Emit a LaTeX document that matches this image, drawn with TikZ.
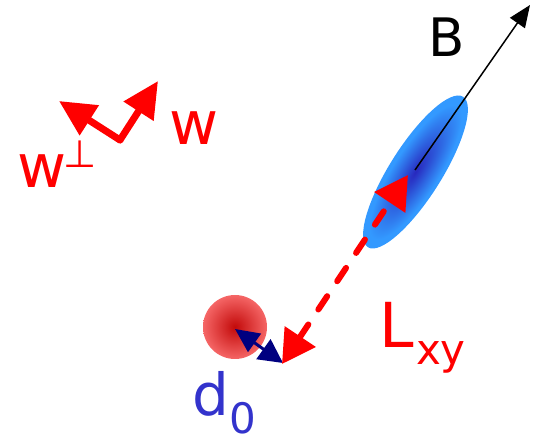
\documentclass[tikz,border=0pt]{standalone}
\usepackage{fontspec}
\setmainfont{DejaVu Sans}
\usetikzlibrary{arrows.meta}
\definecolor{blueout}{RGB}{51,153,255}
\definecolor{bluein}{RGB}{40,40,190}
\definecolor{redout}{RGB}{255,120,120}
\definecolor{redin}{RGB}{195,10,10}
\definecolor{dcol}{RGB}{51,51,204}
\definecolor{navyc}{RGB}{0,0,128}
\pgfdeclareradialshading{blueglow}{\pgfpoint{0bp}{0bp}}{color(0bp)=(bluein); color(22bp)=(blueout); color(50bp)=(blueout)}
\pgfdeclareradialshading{redglow}{\pgfpoint{0bp}{0bp}}{color(0bp)=(redin); color(30bp)=(redout); color(50bp)=(redout)}
\tikzset{
  lbl/.style={anchor=base west, inner sep=0pt, outer sep=0pt},
}
\begin{document}
\begin{tikzpicture}[x=1pt,y=-1pt]
\useasboundingbox (0,0) rectangle (536,438);
% coordinates
\coordinate (bc) at (415.5,172);
\coordinate (bstart) at (415,170);
\coordinate (btip) at (530,5);
\coordinate (ltop) at (408,175);
\coordinate (lbot) at (282,364);
\coordinate (rc) at (235,327);
\coordinate (dtipa) at (235,329);
\coordinate (dtipb) at (283,363);
\coordinate (o) at (120,140);
\coordinate (wtip) at (158,81);
\coordinate (wptip) at (59,101);
% blue ellipse
\begin{scope}[transform canvas={rotate around={57.7:(bc)}}]
  \shade[shading=blueglow] (bc) ellipse [x radius=89, y radius=26];
\end{scope}
% red circle
\shade[shading=redglow] (rc) circle [radius=32];
% B arrow
\draw[black, line width=1.5pt, -{Triangle[length=22pt,width=18pt]}] (bstart) -- (btip);
% navy arrow
\draw[navyc, line width=3pt, {Triangle[length=24pt,width=22pt]}-{Triangle[length=24pt,width=24pt]}] (dtipa) -- (dtipb);
% red dashed arrow
\draw[red, line width=6pt, line cap=round, dash pattern=on 16pt off 18pt,
  {Triangle[length=33pt,width=36pt]}-{Triangle[length=33pt,width=36pt]}] (lbot) -- (ltop);
% w arrows
\draw[red, line width=7pt, line cap=round, -{Triangle[length=36pt,width=34pt]}] (o) -- (wtip);
\draw[red, line width=7pt, line cap=round, -{Triangle[length=36pt,width=34pt]}] (o) -- (wptip);
% labels
\node[lbl, text=black, font=\fontsize{53}{60}\selectfont] (B) at (428,57) {B};
\node[lbl, text=red, font=\fontsize{62}{70}\selectfont] (L) at (379,348) {L};
\node[lbl, text=red, font=\fontsize{42}{48}\selectfont] (xy) at (416,365) {xy};
\node[lbl, text=dcol, font=\fontsize{58}{66}\selectfont] (d) at (192,416) {d};
\node[lbl, text=dcol, font=\fontsize{42}{48}\selectfont] (z) at (229,434) {0};
\node[lbl, text=red, font=\fontsize{60}{68}\selectfont] (w) at (169,145) {w};
\node[lbl, text=red, font=\fontsize{60}{68}\selectfont] (wp) at (17,188) {w};
\node[lbl, text=red, font=\fontsize{38}{44}\selectfont] (perp) at (63,168) {⊥};
\end{tikzpicture}
\end{document}
